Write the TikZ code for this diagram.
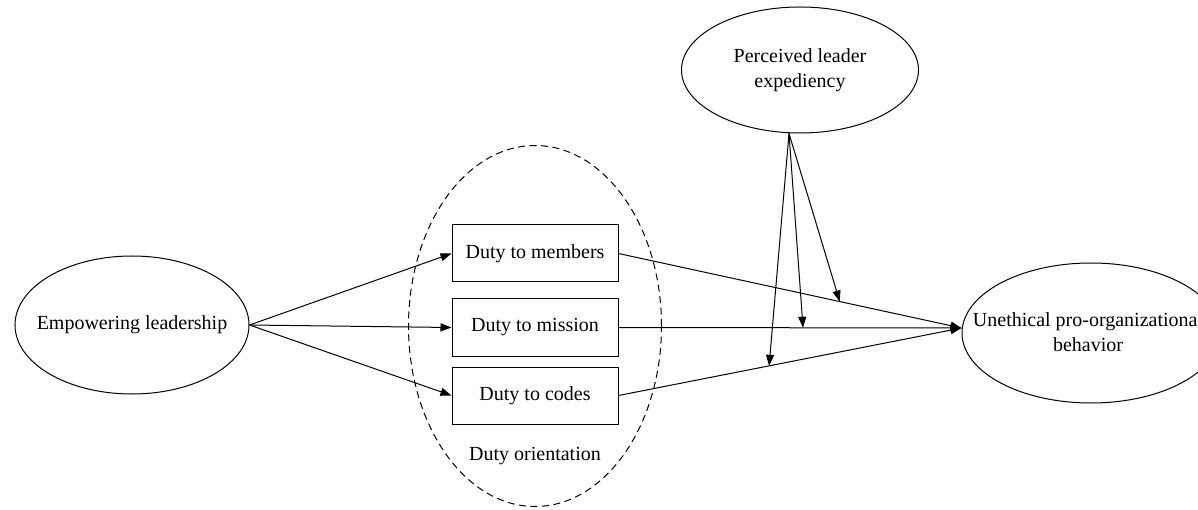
\documentclass[tikz,border=0pt]{standalone}
\usepackage{fontspec}
\setmainfont{Liberation Serif}
\usetikzlibrary{shapes.geometric,arrows.meta}

\tikzset{
  base/.style={font=\fontsize{20}{24.5}\selectfont, inner sep=0pt},
  oval/.style={base, draw, ellipse, line width=1pt},
  group/.style={draw, ellipse, dashed, dash pattern=on 7pt off 4.5pt, line width=1pt, inner sep=0pt},
  dutybox/.style={base, draw, rectangle, line width=1pt, minimum width=166pt, minimum height=57pt},
  caption/.style={base, align=center},
  link/.style={line width=1pt, -{Triangle[length=11pt,width=8pt]}},
  plain/.style={line width=1pt}
}

\begin{document}
\begin{tikzpicture}[x=1pt, y=-1pt]
  \useasboundingbox (0,0) rectangle (1198,510);

  % construct ellipses
  \node[oval, minimum width=234pt, minimum height=138pt] (emp) at (132,325) {};
  \node[caption] (empt) at (emp.center) {Empowering leadership};

  \node[oval, minimum width=237pt, minimum height=126pt] (pe) at (800,70) {};
  \node[caption] (pet) at (pe.center) {Perceived leader\\expediency};

  \node[oval, minimum width=258pt, minimum height=140pt] (upb) at (1091,333) {};
  \node[caption] (upbt) at (1088,332) {Unethical pro-organizational\\behavior};

  % duty orientation group
  \node[group, minimum width=253pt, minimum height=361pt] (duty) at (535,326) {};
  \node[caption] (dutyt) at (535,456) {Duty orientation};

  % duty dimensions
  \node[dutybox] (mem) at (535,253.5) {Duty to members};
  \node[dutybox] (mis) at (535,327.5) {Duty to mission};
  \node[dutybox] (cod) at (535,395.5) {Duty to codes};

  % endpoints
  \coordinate (src) at (emp.east);
  \coordinate (dst) at ([yshift=5pt]upb.west);
  \coordinate (mod) at ([xshift=-11pt]pe.south);

  % empowering leadership -> dimensions
  \draw[link] (src) -- (mem.west);
  \draw[link] (src) -- (mis.west);
  \draw[link] (src) -- (cod.west);

  % dimensions -> UPB
  \draw[link] (mem.east) -- coordinate[pos=0.645] (m1) (dst);
  \draw[link] (mis.east) -- coordinate[pos=0.538] (m2) (dst);
  \draw[link] (cod.east) -- coordinate[pos=0.439] (m3) (dst);

  % moderation by perceived leader expediency
  \draw[link] (mod) -- (m1);
  \draw[link] (mod) -- (m2);
  \draw[link] (mod) -- (m3);
\end{tikzpicture}
\end{document}
